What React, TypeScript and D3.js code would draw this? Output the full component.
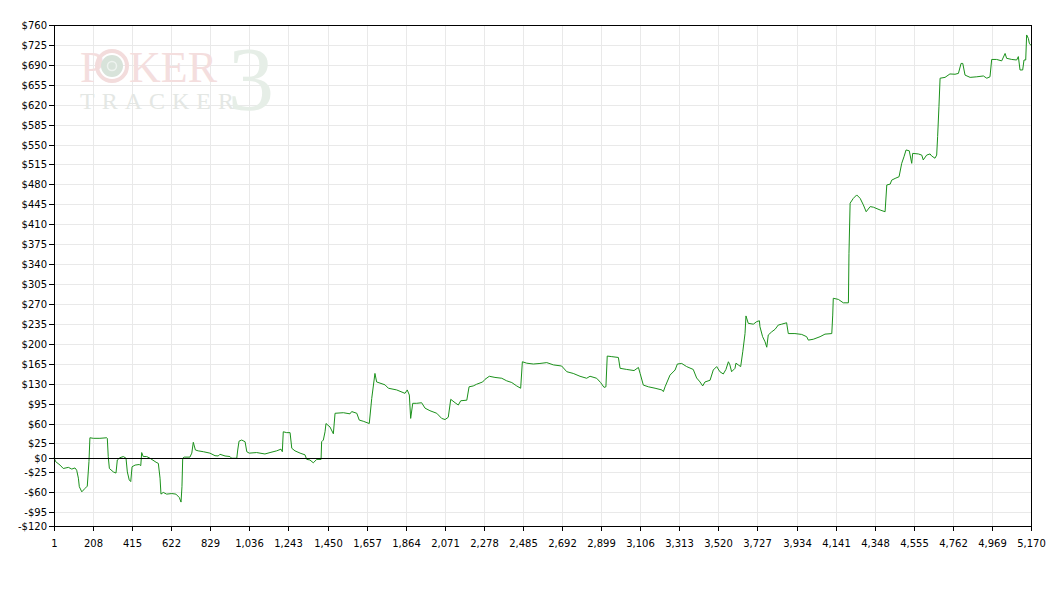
import React from "react";
import * as d3 from "d3";

// hand number (x) and cumulative winnings in dollars (y)
const hands = [
  1, 10, 33, 50, 77, 95, 112, 121, 130, 135, 148, 165, 177, 186, 191, 209, 244, 280, 283, 288,
  294, 315, 329, 336, 350, 368, 382, 389, 399, 407, 414, 430, 452, 460, 465, 473, 491, 509, 541, 553,
  562, 567, 579, 597, 624, 646, 664, 673, 678, 682, 690, 720, 730, 738, 749, 764, 791, 826, 853, 870,
  879, 906, 932, 941, 968, 973, 980, 994, 1012, 1021, 1034, 1073, 1117, 1144, 1179, 1202, 1209, 1214, 1232, 1250,
  1259, 1276, 1303, 1329, 1338, 1355, 1373, 1391, 1414, 1417, 1426, 1435, 1440, 1461, 1479, 1488, 1532, 1567, 1576, 1603,
  1616, 1637, 1669, 1682, 1699, 1708, 1752, 1770, 1814, 1858, 1870, 1881, 1888, 1899, 1920, 1946, 1964, 1990, 2026, 2052,
  2070, 2087, 2100, 2123, 2140, 2153, 2185, 2197, 2219, 2237, 2269, 2281, 2304, 2334, 2370, 2396, 2423, 2449, 2470, 2479,
  2502, 2537, 2572, 2608, 2643, 2687, 2714, 2748, 2784, 2819, 2837, 2872, 2893, 2911, 2921, 2928, 2952, 2987, 2996, 3031,
  3070, 3093, 3102, 3119, 3146, 3181, 3217, 3225, 3234, 3260, 3287, 3299, 3322, 3348, 3383, 3401, 3419, 3433, 3445, 3472,
  3489, 3507, 3524, 3542, 3556, 3569, 3577, 3586, 3604, 3609, 3621, 3634, 3645, 3657, 3662, 3674, 3701, 3719, 3733, 3736,
  3750, 3763, 3772, 3780, 3798, 3816, 3833, 3851, 3877, 3886, 3921, 3957, 3983, 3992, 4018, 4054, 4080, 4116, 4121, 4124,
  4151, 4177, 4204, 4207, 4213, 4230, 4248, 4266, 4283, 4298, 4319, 4336, 4372, 4398, 4407, 4425, 4433, 4451, 4472, 4486,
  4498, 4509, 4526, 4539, 4544, 4574, 4592, 4600, 4618, 4636, 4644, 4662, 4671, 4676, 4683, 4689, 4715, 4741, 4768, 4786,
  4800, 4809, 4821, 4848, 4883, 4918, 4936, 4953, 4962, 4988, 5015, 5033, 5041, 5068, 5094, 5103, 5112, 5126, 5133, 5142,
  5147, 5156, 5161, 5170,
];

const profits = [
  0, -7, -13, -19, -17, -20, -18, -22, -36, -51, -60, -54, -50, -7, 35, 34, 34, 35, 34, 2,
  -19, -25, -27, -4, 0, 2, -1, -25, -39, -42, -16, -13, -12, -14, 9, 2, 2, -1, -8, -10,
  -36, -64, -61, -64, -63, -64, -70, -78, -51, -1, 1, 1, 8, 27, 13.5, 12, 10.5, 8, 3.5, 3,
  6, 3, 2, -1, -1, 13.5, 29, 31, 28, 10.5, 8, 9, 6.5, 9, 12, 15, 10.5, 45.5, 44, 44,
  16.5, 12, 8, 5, -3, -4, -9, -3, -3, 28, 31, 45.5, 60, 54, 42, 78, 79, 77, 81, 78,
  66, 64, 60, 104, 148, 133, 128, 122, 119, 113, 119, 110, 69, 95.5, 95.5, 96.5, 87, 82.5, 78, 69,
  67, 71, 102.5, 96.5, 92.5, 100, 101, 124.5, 126, 129, 133, 137.5, 143, 141, 139.5, 135, 132, 126, 122, 168.5,
  166, 164.5, 165.5, 167, 163, 161, 151, 148, 143, 139.5, 143, 139.5, 132, 123.5, 124.5, 178.5, 177.5, 176, 157, 155,
  153, 158.5, 148, 127.5, 124.5, 122, 119, 116, 124.5, 145, 154, 164.5, 165.5, 160, 155, 140, 133, 126, 133, 136,
  154, 160, 151, 147, 155, 168.5, 163, 151, 157, 166, 163, 160, 186, 218, 249, 236, 234.5, 239, 240.5, 230,
  212.5, 203.5, 194, 215.5, 221, 225.5, 233, 234.5, 237, 218, 218, 216.5, 212.5, 206.5, 208, 212.5, 217, 218, 250.5, 280,
  278, 272, 272, 359, 447, 455.5, 461.5, 455.5, 444, 432, 441, 440, 435, 432, 479, 480.5, 487.5, 490.5, 493.5, 517,
  528.5, 540.5, 539, 517, 534.5, 533.5, 531.5, 523, 531.5, 533.5, 530, 526, 531.5, 564, 616.5, 666.5, 668, 674, 673.5, 675,
  692.5, 692.5, 672, 668, 669, 670.5, 666.5, 669, 699.5, 699.5, 697, 710, 701.5, 699.5, 698.5, 704.5, 681, 681, 698.5, 698.5,
  742.5, 736.5, 728, 724,
];

const yTicks = [760, 725, 690, 655, 620, 585, 550, 515, 480, 445, 410, 375, 340, 305, 270, 235, 200, 165, 130, 95, 60, 25, 0, -25, -60, -95, -120];
const xTickLabels = ["1", "208", "415", "622", "829", "1,036", "1,243", "1,450", "1,657", "1,864", "2,071", "2,278", "2,485", "2,692", "2,899", "3,106", "3,313", "3,520", "3,727", "3,934", "4,141", "4,348", "4,555", "4,762", "4,969", "5,170"];

const W = 1052;
const H = 598;
const left = 54;
const right = 1031;
const top = 25;
const bottom = 526;

const fmt = (v: number) => (v < 0 ? "-$" + Math.abs(v) : "$" + v);

export default function App() {
  const x = d3.scaleLinear().domain([1, 5170]).range([left, right]);
  const y = d3.scaleLinear().domain([-120, 760]).range([bottom, top]);
  const pts = hands.map((h, i) => [h, profits[i]] as [number, number]);
  const line = d3
    .line<[number, number]>()
    .x((d) => x(d[0]))
    .y((d) => y(d[1]));

  const step = (5170 - 1) / (xTickLabels.length - 1);
  const xTickPos = xTickLabels.map((_, i) => Math.round(x(1 + i * step)) + 0.5);
  const yPos = (v: number) => Math.round(y(v)) + 0.5;
  const font = "'DejaVu Sans', Verdana, sans-serif";
  const serif = "'Liberation Serif', 'DejaVu Serif', serif";

  return (
    <svg
      width={W}
      height={H}
      style={{ position: "absolute", left: 0, top: 0, background: "#fff" }}
      fontFamily={font}
    >
      <rect x={0} y={0} width={W} height={H} fill="#fff" />
      {/* grid */}
      <g stroke="#e9e9e9" strokeWidth={1} shapeRendering="crispEdges">
        {xTickPos.slice(1, -1).map((px, i) => (
          <line key={"gx" + i} x1={px} x2={px} y1={top} y2={bottom} />
        ))}
        {yTicks
          .filter((v) => v !== 0 && v !== 760 && v !== -120)
          .map((v) => (
            <line key={"gy" + v} x1={left} x2={right} y1={yPos(v)} y2={yPos(v)} />
          ))}
      </g>

      {/* watermark */}
      <g>
        <text x={228} y={110} fontFamily={serif} fontSize={92} fill="#e6eee7">
          3
        </text>
        <text x={80} y={82} fontFamily={serif} fontSize={44} fill="#f4dede">
          P
        </text>
        <circle cx={112} cy={66} r={15} fill="none" stroke="#f3dcdc" strokeWidth={4} />
        <circle cx={112} cy={66} r={11} fill="#d8e3da" />
        <circle cx={112} cy={66} r={4.5} fill="none" stroke="#eef3ef" strokeWidth={1.5} />
        <text x={129} y={82} fontFamily={serif} fontSize={44} fill="#f4dede">
          KER
        </text>
        <text x={80} y={109} fontFamily={serif} fontSize={24} fill="#e4e7e4" letterSpacing={7}>
          TRACKER
        </text>
      </g>

      {/* data line */}
      <path d={line(pts) || ""} fill="none" stroke="#1b911b" strokeWidth={1} />

      {/* axes and borders */}
      <g stroke="#000" strokeWidth={1} shapeRendering="crispEdges">
        <line x1={left + 0.5} x2={left + 0.5} y1={top} y2={bottom + 1} />
        <line x1={left} x2={right + 1} y1={bottom + 0.5} y2={bottom + 0.5} />
        <line x1={left} x2={right + 1} y1={top + 0.5} y2={top + 0.5} />
        <line x1={right + 0.5} x2={right + 0.5} y1={top} y2={bottom + 1} />
        <line x1={left} x2={right + 1} y1={yPos(0)} y2={yPos(0)} />
        {yTicks.map((v) => (
          <line key={"ty" + v} x1={left - 5} x2={left} y1={yPos(v)} y2={yPos(v)} />
        ))}
        {xTickPos.map((px, i) => (
          <line key={"tx" + i} x1={px} x2={px} y1={bottom} y2={bottom + 5} />
        ))}
      </g>

      {/* labels */}
      <g fontSize={10} fill="#000">
        {yTicks.map((v) => (
          <text key={"ly" + v} x={left - 7} y={yPos(v)} dy="0.35em" textAnchor="end">
            {fmt(v)}
          </text>
        ))}
        {xTickLabels.map((t, i) => (
          <text key={"lx" + i} x={xTickPos[i]} y={547} textAnchor="middle">
            {t}
          </text>
        ))}
      </g>
    </svg>
  );
}
